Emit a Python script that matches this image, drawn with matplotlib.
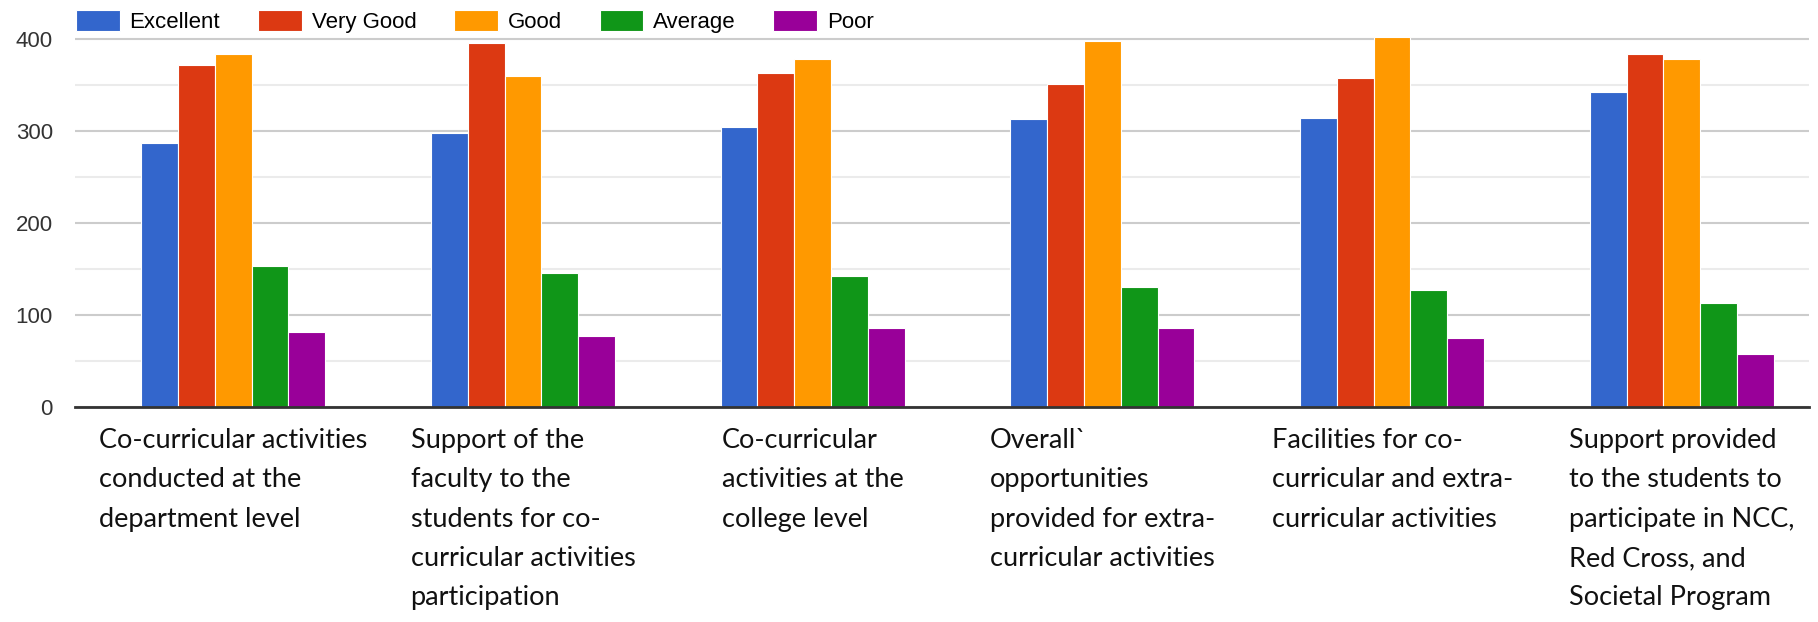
import matplotlib
matplotlib.use("Agg")
import matplotlib.pyplot as plt
import numpy as np

# data
categories = [
    "Co-curricular activities\nconducted at the\ndepartment level",
    "Support of the\nfaculty to the\nstudents for co-\ncurricular activities\nparticipation",
    "Co-curricular\nactivities at the\ncollege level",
    "Overall`\nopportunities\nprovided for extra-\ncurricular activities",
    "Facilities for co-\ncurricular and extra-\ncurricular activities",
    "Support provided\nto the students to\nparticipate in NCC,\nRed Cross, and\nSocietal Program",
]
series_names = ["Excellent", "Very Good", "Good", "Average", "Poor"]
excellent = [287, 298, 305, 313, 315, 343]
very_good = [372, 396, 363, 351, 358, 384]
good = [384, 360, 379, 398, 403, 379]
average = [153, 146, 143, 131, 127, 113]
poor = [82, 77, 86, 86, 75, 58]
y_ticks = [0, 100, 200, 300, 400]

colors = ["#3366cc", "#dc3912", "#ff9900", "#109618", "#990099"]
series = [excellent, very_good, good, average, poor]

fig = plt.figure(figsize=(18.18, 6.22), dpi=100)
ax = fig.add_axes([75 / 1818, 215 / 622, 1734 / 1818, 386 / 622])

x = np.arange(len(categories))
width = 0.127
for i, (name, vals) in enumerate(zip(series_names, series)):
    ax.bar(x + (i - 2) * width, vals, width, color=colors[i], label=name,
           edgecolor="white", linewidth=0.8, zorder=3)

ax.set_xlim(-0.546, 5.439)
ax.set_ylim(0, 420)

# grid
ax.set_yticks(y_ticks)
ax.set_yticks([50, 150, 250, 350], minor=True)
ax.grid(axis="y", which="major", color="#cccccc", linewidth=1.5, zorder=0)
ax.grid(axis="y", which="minor", color="#ebebeb", linewidth=1.5, zorder=0)
ax.set_axisbelow(True)

for s in ["top", "right", "left"]:
    ax.spines[s].set_visible(False)
ax.spines["bottom"].set_color("#333333")
ax.spines["bottom"].set_linewidth(2)
ax.spines["bottom"].set_zorder(4)

ax.tick_params(axis="y", which="both", length=0, pad=16, labelsize=16,
               labelcolor="#333333")
for lab in ax.get_yticklabels():
    lab.set_fontfamily("Liberation Sans")

ax.set_xticks(x)
ax.set_xticklabels(categories, fontsize=19.5, fontfamily="Lato", ha="center",
                   multialignment="left", linespacing=1.72, color="#111111")
ax.tick_params(axis="x", length=0, pad=15)

fig.legend(loc="upper left", bbox_to_anchor=(76 / 1818, 1 - 10 / 622),
           ncol=5, frameon=False, borderpad=0, borderaxespad=0,
           handlelength=1.96, handleheight=1.1, handletextpad=0.45,
           columnspacing=1.7, prop={"family": "Liberation Sans", "size": 16})

fig.savefig("out.png", dpi=100, facecolor="white")
